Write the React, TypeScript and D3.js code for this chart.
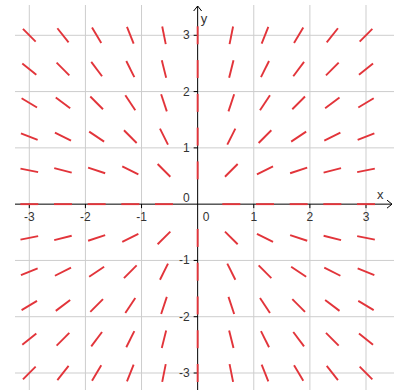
import React from "react";
import * as d3 from "d3";

// Sample points of the direction field (both axes use the same lattice)
const sampleX = [-3, -2.4, -1.8, -1.2, -0.6, 0, 0.6, 1.2, 1.8, 2.4, 3];
const sampleY = [-3, -2.4, -1.8, -1.2, -0.6, 0, 0.6, 1.2, 1.8, 2.4, 3];
// Integer ticks / grid lines
const xTicks = [-3, -2, -1, 0, 1, 2, 3];
const yTicks = [-3, -2, -1, 0, 1, 2, 3];
const xTickLabels = ["-3", "-2", "-1", "0", "1", "2", "3"];
const yTickLabels = ["-3", "-2", "-1", "0", "1", "2", "3"];

// dy/dx = y / x  →  direction vector (x, y)
const direction = (x: number, y: number): [number, number] | null => {
  if (x === 0 && y === 0) return null;
  return [x, y];
};

const W = 394;
const H = 390;
const SEG = 18;

export default function App() {
  const xScale = d3.scaleLinear().domain([-3, 3]).range([29.3, 366]);
  const yScale = d3.scaleLinear().domain([-3, 3]).range([373, 35.3]);
  const x0 = xScale(0);
  const y0 = yScale(0);
  const left = 15;
  const right = W;
  const top = 5;
  const bottom = H;

  const segments: { x1: number; y1: number; x2: number; y2: number; k: string }[] = [];
  sampleX.forEach((x) => {
    sampleY.forEach((y) => {
      const d = direction(x, y);
      if (!d) return;
      // convert direction to pixel space and normalise to constant length
      const dx = xScale(d[0]) - xScale(0);
      const dy = yScale(d[1]) - yScale(0);
      const len = Math.hypot(dx, dy);
      const ux = (dx / len) * (SEG / 2);
      const uy = (dy / len) * (SEG / 2);
      const cx = xScale(x);
      const cy = yScale(y);
      segments.push({ x1: cx - ux, y1: cy - uy, x2: cx + ux, y2: cy + uy, k: `${x}_${y}` });
    });
  });

  const font = "'Liberation Sans', Arial, sans-serif";
  const textColor = "#333";

  return (
    <svg
      width={W}
      height={H}
      style={{ position: "absolute", left: 0, top: 0, background: "#fff" }}
    >
      {/* grid */}
      <g stroke="#cdcdcd" strokeWidth={1}>
        {xTicks.filter((t) => t !== 0).map((t) => (
          <line key={"gx" + t} x1={xScale(t)} x2={xScale(t)} y1={top} y2={bottom} />
        ))}
        {yTicks.filter((t) => t !== 0).map((t) => (
          <line key={"gy" + t} x1={left} x2={right} y1={yScale(t)} y2={yScale(t)} />
        ))}
      </g>

      {/* axes */}
      <g stroke="#000" strokeWidth={1} fill="none">
        <line x1={left} x2={W - 2} y1={y0} y2={y0} />
        <line x1={x0} x2={x0} y1={bottom} y2={6} />
        <path d={`M${W - 7},${y0 - 4} L${W - 2},${y0} L${W - 7},${y0 + 4}`} />
        <path d={`M${x0 - 4},${11} L${x0},${6} L${x0 + 4},${11}`} />
        {xTicks.filter((t) => t !== 0).map((t) => (
          <line key={"tx" + t} x1={xScale(t)} x2={xScale(t)} y1={y0} y2={y0 + 4} />
        ))}
        {yTicks.filter((t) => t !== 0).map((t) => (
          <line key={"ty" + t} x1={x0 - 4} x2={x0} y1={yScale(t)} y2={yScale(t)} />
        ))}
      </g>

      {/* direction field */}
      <g stroke="#e2343a" strokeWidth={1.9} strokeLinecap="butt">
        {segments.map((s) => (
          <line key={s.k} x1={s.x1} y1={s.y1} x2={s.x2} y2={s.y2} />
        ))}
      </g>

      {/* tick labels */}
      <g fontFamily={font} fontSize={12} fill={textColor}>
        {xTicks.map((t, i) =>
          t === 0 ? (
            <text key={"lx" + t} x={x0 + 5} y={y0 + 17}>
              {xTickLabels[i]}
            </text>
          ) : (
            <text key={"lx" + t} x={xScale(t)} y={y0 + 17} textAnchor="middle">
              {xTickLabels[i]}
            </text>
          )
        )}
        {yTicks.map((t, i) => (
          <text
            key={"ly" + t}
            x={x0 - 8}
            y={t === 0 ? y0 - 2 : yScale(t) + 4}
            textAnchor="end"
          >
            {yTickLabels[i]}
          </text>
        ))}
        <text x={W - 17} y={y0 - 5} fontSize={13}>x</text>
        <text x={x0 + 3} y={23} fontSize={13}>y</text>
      </g>
    </svg>
  );
}
